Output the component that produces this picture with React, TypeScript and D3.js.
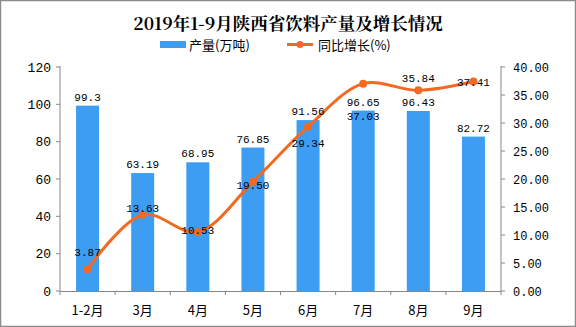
import React from "react";
import * as d3 from "d3";

const categories = ["1-2月", "3月", "4月", "5月", "6月", "7月", "8月", "9月"];
const production = [99.3, 63.19, 68.95, 76.85, 91.56, 96.65, 96.43, 82.72];
const growth = [3.87, 13.63, 10.53, 19.5, 29.34, 37.03, 35.84, 37.41];
const leftTicks = [0, 20, 40, 60, 80, 100, 120];
const rightTicks = [0, 5, 10, 15, 20, 25, 30, 35, 40];
// label offsets (layout only) for growth labels, relative to point
const growthLabelDy = [-17, -7, -2, 3, 16, 32, -12, 0];

const W = 576;
const H = 327;
const BAR = "#3d9df2";
const LINE = "#f26a21";
const MONO = "'Liberation Mono', 'DejaVu Sans Mono', monospace";
const CJK = "'Noto Sans CJK SC', sans-serif";

export default function App() {
  const left = 60;
  const right = 501;
  const top = 67;
  const bottom = 291;
  const x = d3.scaleBand<string>().domain(categories).range([left, right]).paddingInner(0.58).paddingOuter(0.29);
  const band = d3.scaleBand<string>().domain(categories).range([left, right]);
  const yL = d3.scaleLinear().domain([0, 120]).range([bottom, top]);
  const yR = d3.scaleLinear().domain([0, 40]).range([bottom, top]);
  const cx = (c: string) => band(c)! + band.bandwidth() / 2;
  const pts: [number, number][] = growth.map((g, i) => [cx(categories[i]), yR(g)]);
  const line = d3.line().curve(d3.curveCatmullRom.alpha(0.5))(pts) || "";
  const bw = 23;

  return (
    <div style={{ position: "fixed", left: 0, top: 0 }}>
      <svg width={W} height={H} style={{ display: "block", background: "#fff" }}>
        <rect x={0.5} y={0.5} width={W - 1} height={H - 1} fill="#fff" stroke="#8c8c8c" strokeWidth={1.5} />
        <text x={288} y={30} textAnchor="middle" fontFamily="'Noto Serif CJK SC', 'DejaVu Serif', serif" fontWeight="bold" fontSize={17.5} fill="#000">
          2019年1-9月陕西省饮料产量及增长情况
        </text>
        {/* legend */}
        <rect x={160} y={41} width={26} height={7} fill={BAR} />
        <text x={189} y={49.5} fontFamily={CJK} fontSize={13} fill="#000">产量(万吨)</text>
        <line x1={287} x2={313} y1={44.5} y2={44.5} stroke={LINE} strokeWidth={3} />
        <circle cx={300} cy={44.5} r={3.5} fill={LINE} />
        <text x={318} y={49.5} fontFamily={CJK} fontSize={13} fill="#000">同比增长(%)</text>

        {/* bars */}
        {production.map((v, i) => (
          <rect key={i} x={cx(categories[i]) - bw / 2} y={yL(v)} width={bw} height={bottom - yL(v)} fill={BAR} />
        ))}
        {/* left axis */}
        <line x1={left} x2={left} y1={top - 1} y2={bottom} stroke="#888" />
        {leftTicks.map((t) => (
          <g key={t}>
            <line x1={left - 4} x2={left} y1={yL(t)} y2={yL(t)} stroke="#888" />
            <text x={51} y={yL(t) + 4.5} textAnchor="end" fontFamily={MONO} fontSize={13} fill="#000">{t}</text>
          </g>
        ))}
        {/* right axis */}
        <line x1={right} x2={right} y1={top - 1} y2={bottom} stroke="#888" />
        {rightTicks.map((t) => (
          <g key={t}>
            <line x1={right} x2={right + 4} y1={yR(t)} y2={yR(t)} stroke="#888" />
            <text x={513} y={yR(t) + 4.5} fontFamily={MONO} fontSize={12} fill="#000">{t.toFixed(2)}</text>
          </g>
        ))}
        {/* x axis */}
        <line x1={left} x2={right} y1={bottom + 0.5} y2={bottom + 0.5} stroke="#888" />
        {[...categories.map((c) => band(c)!), right].map((p, i) => (
          <line key={i} x1={p} x2={p} y1={bottom} y2={bottom + 4} stroke="#888" />
        ))}
        {categories.map((c) => (
          <text key={c} x={cx(c)} y={315} textAnchor="middle" fontFamily={CJK} fontSize={13} fill="#000">{c}</text>
        ))}
        {/* line */}
        <path d={line} fill="none" stroke={LINE} strokeWidth={3} />
        {pts.map((p, i) => (
          <circle key={i} cx={p[0]} cy={p[1]} r={4} fill={LINE} />
        ))}
        {/* bar labels */}
        {production.map((v, i) => (
          <text key={i} x={cx(categories[i])} y={yL(v) - 5} textAnchor="middle" fontFamily={MONO} fontSize={11} fill="#000">{String(v)}</text>
        ))}
        {/* growth labels */}
        {growth.map((g, i) => (
          <text key={i} x={cx(categories[i])} y={yR(g) + growthLabelDy[i] + 4} textAnchor="middle" fontFamily={MONO} fontSize={11} fill="#000">{g.toFixed(2)}</text>
        ))}
      </svg>
    </div>
  );
}
